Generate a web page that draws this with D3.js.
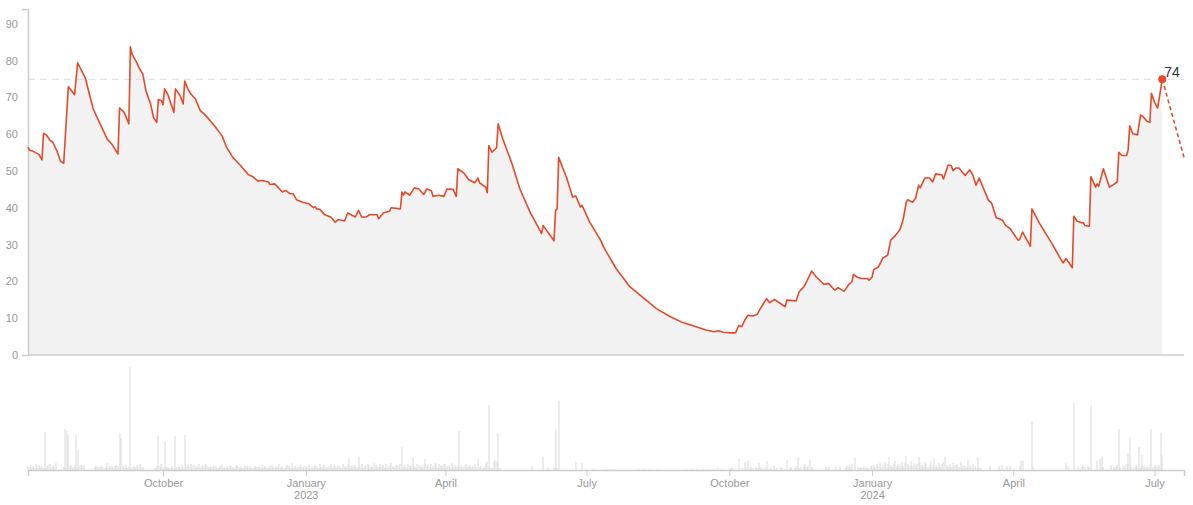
<!DOCTYPE html>
<html><head><meta charset="utf-8">
<script src="https://cdn.jsdelivr.net/npm/d3@7"></script>
<style>
html,body{margin:0;padding:0;background:#fff;}
svg{display:block;font-family:"Helvetica Neue",Helvetica,Arial,"Liberation Sans",sans-serif;}
</style></head><body>
<svg id="chart" width="1193" height="505"></svg>
<script>
// ---------- DATA ----------
const trendPoints = [
["2022-07-06",56.5],["2022-07-07",55.6],["2022-07-09",55.4],["2022-07-13",54.5],["2022-07-15",53.0],
["2022-07-16",60.2],["2022-07-18",59.7],["2022-07-20",58.4],["2022-07-22",57.8],["2022-07-25",55.1],
["2022-07-27",52.6],["2022-07-29",52.1],["2022-08-01",72.9],["2022-08-03",71.8],["2022-08-05",70.7],
["2022-08-07",79.4],["2022-08-09",77.7],["2022-08-12",75.2],["2022-08-14",71.8],["2022-08-17",66.9],
["2022-08-19",65.0],["2022-08-21",63.2],["2022-08-26",58.7],["2022-08-29",57.3],["2022-09-02",54.6],
["2022-09-03",67.1],["2022-09-06",65.9],["2022-09-09",62.8],["2022-09-10",83.7],["2022-09-11",81.8],
["2022-09-14",79.5],["2022-09-16",77.7],["2022-09-18",76.3],["2022-09-20",71.8],["2022-09-23",68.2],
["2022-09-25",64.4],["2022-09-27",63.2],["2022-09-28",69.4],["2022-09-30",69.1],["2022-10-01",68.0],
["2022-10-02",72.3],["2022-10-04",70.9],["2022-10-08",65.9],["2022-10-09",72.3],["2022-10-12",70.5],
["2022-10-14",68.2],["2022-10-15",74.4],["2022-10-17",72.3],["2022-10-19",70.9],["2022-10-22",69.5],
["2022-10-25",66.4],["2022-10-28",65.3],["2022-11-02",62.9],["2022-11-08",59.6],["2022-11-11",56.4],
["2022-11-15",53.7],["2022-11-20",51.5],["2022-11-25",49.0],["2022-11-28",48.4],["2022-12-01",47.3],
["2022-12-04",47.4],["2022-12-08",47.0],["2022-12-09",46.3],["2022-12-12",46.5],["2022-12-17",44.3],
["2022-12-19",44.7],["2022-12-22",43.8],["2022-12-24",43.8],["2022-12-26",42.2],["2022-12-30",41.5],
["2023-01-03",41.1],["2023-01-06",40.0],["2023-01-07",40.3],["2023-01-08",39.7],["2023-01-10",39.6],
["2023-01-13",38.2],["2023-01-17",37.5],["2023-01-20",36.1],["2023-01-22",36.8],["2023-01-26",36.4],
["2023-01-28",38.6],["2023-02-02",37.5],["2023-02-04",39.3],["2023-02-06",37.5],["2023-02-09",37.5],
["2023-02-11",38.1],["2023-02-16",38.1],["2023-02-17",37.0],["2023-02-20",38.6],["2023-02-24",39.1],
["2023-02-25",40.0],["2023-03-03",39.7],["2023-03-04",44.3],["2023-03-05",43.4],["2023-03-06",44.3],
["2023-03-09",43.4],["2023-03-12",45.4],["2023-03-15",45.1],["2023-03-17",44.0],["2023-03-18",43.6],
["2023-03-20",45.1],["2023-03-23",44.6],["2023-03-24",43.1],["2023-03-28",43.4],["2023-03-31",43.1],
["2023-04-02",45.1],["2023-04-06",45.0],["2023-04-08",43.1],["2023-04-09",50.6],["2023-04-13",49.4],
["2023-04-16",47.6],["2023-04-20",46.8],["2023-04-22",48.1],["2023-04-23",46.8],["2023-04-27",45.6],
["2023-04-28",44.1],["2023-04-29",56.9],["2023-05-01",55.1],["2023-05-04",56.3],["2023-05-05",62.8],
["2023-05-08",58.7],["2023-05-14",51.9],["2023-05-19",45.1],["2023-05-26",38.4],["2023-05-27",37.7],
["2023-06-02",33.0],["2023-06-03",35.2],["2023-06-05",34.0],["2023-06-07",32.8],["2023-06-10",31.0],
["2023-06-11",39.3],["2023-06-12",39.7],["2023-06-13",53.7],["2023-06-18",48.3],["2023-06-22",42.9],
["2023-06-24",43.2],["2023-06-27",40.2],["2023-06-28",40.7],["2023-07-03",36.1],["2023-07-10",31.2],
["2023-07-12",29.3],["2023-07-20",23.5],["2023-07-29",18.5],["2023-08-07",15.4],["2023-08-15",12.6],
["2023-08-24",10.4],["2023-09-01",8.8],["2023-09-08",7.9],["2023-09-16",6.8],["2023-09-21",6.3],
["2023-09-24",6.6],["2023-09-27",6.2],["2023-10-02",6.0],["2023-10-05",6.0],["2023-10-07",8.0],
["2023-10-09",7.7],["2023-10-11",9.5],["2023-10-13",10.8],["2023-10-16",10.6],["2023-10-19",11.1],
["2023-10-21",12.6],["2023-10-23",14.0],["2023-10-25",15.3],["2023-10-27",14.2],["2023-10-30",15.1],
["2023-11-06",13.1],["2023-11-07",14.9],["2023-11-13",14.7],["2023-11-15",17.2],["2023-11-18",18.5],
["2023-11-20",20.1],["2023-11-23",22.8],["2023-11-26",21.2],["2023-12-01",19.2],["2023-12-04",19.4],
["2023-12-08",17.6],["2023-12-10",18.3],["2023-12-14",17.3],["2023-12-17",19.2],["2023-12-19",19.9],
["2023-12-20",21.9],["2023-12-22",21.2],["2023-12-25",20.8],["2023-12-29",20.8],["2023-12-30",20.3],
["2024-01-01",21.2],["2024-01-02",23.2],["2024-01-05",23.9],["2024-01-08",26.4],["2024-01-11",27.1],
["2024-01-13",31.2],["2024-01-14",31.6],["2024-01-16",32.5],["2024-01-19",34.1],["2024-01-21",36.8],
["2024-01-23",41.5],["2024-01-24",42.2],["2024-01-27",41.5],["2024-01-29",42.6],["2024-01-31",46.1],
["2024-02-01",45.4],["2024-02-04",48.1],["2024-02-07",48.1],["2024-02-09",47.0],["2024-02-11",49.2],
["2024-02-15",48.9],["2024-02-16",47.8],["2024-02-19",51.6],["2024-02-21",51.5],["2024-02-22",50.1],
["2024-02-24",50.8],["2024-02-26",50.8],["2024-02-28",49.7],["2024-03-01",48.8],["2024-03-04",50.3],
["2024-03-06",48.8],["2024-03-08",46.1],["2024-03-10",48.1],["2024-03-16",42.0],["2024-03-18",41.3],
["2024-03-21",37.3],["2024-03-23",37.0],["2024-03-25",36.6],["2024-03-27",35.2],["2024-03-30",34.3],
["2024-04-04",31.2],["2024-04-05",31.3],["2024-04-07",33.4],["2024-04-12",29.5],["2024-04-13",39.7],
["2024-04-18",35.7],["2024-04-26",30.2],["2024-05-03",25.0],["2024-05-05",26.2],["2024-05-09",23.7],
["2024-05-10",37.7],["2024-05-12",36.4],["2024-05-15",35.9],["2024-05-16",36.0],["2024-05-17",35.2],
["2024-05-20",35.0],["2024-05-21",48.5],["2024-05-24",45.6],["2024-05-25",46.5],["2024-05-26",45.8],
["2024-05-29",50.6],["2024-06-02",45.6],["2024-06-07",47.0],["2024-06-08",55.1],["2024-06-10",54.2],
["2024-06-13",54.2],["2024-06-14",55.7],["2024-06-15",62.3],["2024-06-17",60.1],["2024-06-20",59.8],
["2024-06-22",65.2],["2024-06-24",64.6],["2024-06-26",63.5],["2024-06-28",63.2],["2024-06-29",71.1],
["2024-07-01",68.7],["2024-07-03",67.1],["2024-07-06",74.9]
];
const forecastPoints = [["2024-07-06",74.9],["2024-07-20",53.7]];

// daily activity bars, one row per month starting at the given date
const volumeMonthStarts = [
"2022-07-06","2022-08-01","2022-09-01","2022-10-01","2022-11-01","2022-12-01",
"2023-01-01","2023-02-01","2023-03-01","2023-04-01","2023-05-01","2023-06-01",
"2023-07-01","2023-08-01","2023-09-01","2023-10-01","2023-11-01","2023-12-01",
"2024-01-01","2024-02-01","2024-03-01","2024-04-01","2024-05-01","2024-06-01","2024-07-01"
];
const volumeByMonth = [
[4,3,5,4,3,6,4,5,3,4,2,38,4,5,6,3,5,4,7,0,0,1,0,3,41,39],
[35,4,5,3,5,35,20,4,5,4,5,0,0,0,0,0,0,3,4,3,3,4,3,2,4,7,3,4,4,3,4],
[5,4,37,32,4,3,5,2,4,103,3,4,3,5,4,6,4,3,0,0,0,0,0,0,0,2,4,34,4,6],
[3,29,4,3,2,3,4,2,34,3,4,2,5,3,35,4,5,3,6,4,5,3,4,6,3,5,4,6,5,4,3],
[4,3,5,4,2,3,4,5,3,2,4,3,5,4,3,2,4,5,3,4,2,3,5,4,3,4,2,3,4,3],
[3,4,2,5,3,4,3,2,4,5,3,2,4,3,6,3,4,2,3,5,4,3,7,3,4,2,3,4,5,3,4],
[4,3,5,2,4,3,5,4,2,6,3,4,5,3,2,4,6,3,5,4,3,5,4,2,6,4,3,5,12,4,5],
[4,5,3,13,4,6,3,5,4,6,5,3,4,7,5,4,3,6,4,5,3,6,4,5,7,4,3,5],
[5,4,6,23,4,5,3,6,4,5,13,4,3,6,5,4,3,5,11,4,5,3,6,4,7,5,3,6,4,5,6],
[6,4,5,3,7,4,5,3,4,39,5,3,4,6,3,4,5,3,4,6,3,11,3,4,2,3,7,8,65,3],
[2,8,10,9,37,2,0,0,0,0,0,0,0,0,0,0,0,0,0,0,0,0,0,0,0,0,4,0,0,0,0],
[0,0,13,0,0,3,0,0,0,3,41,2,69,0,0,0,0,0,0,0,0,0,0,8,0,0,0,7,0,0],
[0,0,0,0,1,0,0,0,0,0,0,0,1,0,1,0,1,0,1,0,0,0,0,0,0,0,0,0,0,0,0],
[0,0,0,1,0,0,1,0,0,0,1,0,0,0,0,1,0,0,0,0,0,0,0,0,0,0,0,0,0,0,0],
[0,0,1,0,0,0,1,0,0,1,0,0,0,1,0,0,1,0,0,1,0,1,0,2,0,1,0,0,0,0],
[1,2,2,1,0,0,11,0,2,0,8,2,9,1,3,2,0,3,2,7,3,2,0,3,9,1,0,2,0,4,1],
[2,0,3,2,0,1,10,0,2,3,0,2,4,13,2,3,0,4,6,3,5,10,3,0,0,0,0,0,0,0],
[0,3,2,3,0,0,0,0,3,0,3,0,0,0,3,4,5,3,6,0,12,0,3,2,3,2,4,2,3,2,4],
[4,5,3,6,4,7,3,5,8,4,6,13,5,3,7,9,4,6,5,8,4,7,14,6,5,9,4,7,5,6,13],
[7,5,4,8,6,3,5,9,4,12,5,3,7,4,6,8,13,5,4,6,3,7,4,5,6,3,8,4,5],
[4,3,10,5,3,6,4,2,13,3,2,0,0,0,0,0,4,0,0,0,0,0,4,0,5,0,0,4,0,4,0],
[0,0,0,0,3,9,9,0,0,0,0,0,49,3,0,0,0,0,0,0,0,0,0,0,0,0,0,0,0,0],
[0,0,0,0,7,4,0,0,0,67,0,0,3,0,3,5,3,0,4,3,65,0,0,0,9,0,11,13,3,0,0],
[0,0,5,0,3,4,5,41,3,0,4,5,6,17,33,4,0,3,5,4,23,4,15,5,3,4,3,5,41,3],
[4,5,4,5,37,15]
];

const yTicks = [0,10,20,30,40,50,60,70,80,90];
const xTickDates = ["2022-10-01","2023-01-01","2023-04-01","2023-07-01","2023-10-01","2024-01-01","2024-04-01","2024-07-01"];
const xDomain = ["2022-07-06","2024-07-20"];
const yMax = 94;
const volumeMax = 104;

// ---------- DRAW ----------
const parse = d3.utcParse("%Y-%m-%d");
const LINE = "#e64a2b";
const AXIS = "#cccccc";
const TXT = "#999999";
const L = 28, R = 1184, T = 9, ZERO = 355, VBASE = 470;

const svg = d3.select("#chart");
const x = d3.scaleUtc().domain(xDomain.map(parse)).range([L, R]);
const y = d3.scaleLinear().domain([0, yMax]).range([ZERO, T]);
const yv = d3.scaleLinear().domain([0, volumeMax]).range([VBASE, VBASE - 104]);

const trend = trendPoints.map(d => ({date: parse(d[0]), value: d[1]}));
const forecast = forecastPoints.map(d => ({date: parse(d[0]), value: d[1]}));
const volume = [];
volumeMonthStarts.forEach((s, i) => {
  const start = parse(s);
  volumeByMonth[i].forEach((v, j) => volume.push({date: d3.utcDay.offset(start, j), value: v}));
});
const last = trend[trend.length - 1];

// area
svg.append("path").datum(trend)
  .attr("fill", "#f2f2f2")
  .attr("d", d3.area().x(d => x(d.date)).y0(y(0)).y1(d => y(d.value)));

// reference dashed line at current value
svg.append("line")
  .attr("x1", L).attr("x2", R).attr("y1", y(last.value)).attr("y2", y(last.value))
  .attr("stroke", "#dddddd").attr("stroke-width", 1).attr("stroke-dasharray", "7,5");

// zero line
svg.append("line")
  .attr("x1", L).attr("x2", R).attr("y1", ZERO).attr("y2", ZERO)
  .attr("stroke", AXIS).attr("stroke-width", 1.5);

// y axis
const gy = svg.append("g").attr("transform", `translate(${L},0)`)
  .call(d3.axisLeft(y).tickValues(yTicks).tickSizeInner(0).tickSizeOuter(6).tickPadding(10));
gy.select(".domain").attr("stroke", AXIS).attr("stroke-width", 1.5);
gy.selectAll(".tick line").remove();
gy.selectAll("text").attr("fill", TXT).style("font-size", "11px");

// volume bars
svg.append("g").selectAll("rect").data(volume.filter(d => d.value > 0)).join("rect")
  .attr("x", d => Math.round(x(d.date)) - 0.5)
  .attr("width", 1)
  .attr("y", d => yv(d.value))
  .attr("height", d => VBASE - yv(d.value))
  .attr("fill", "#d9d9d9");

// bottom axis
const gx = svg.append("g").attr("transform", `translate(0,${VBASE})`)
  .call(d3.axisBottom(x).tickValues(xTickDates.map(parse)).tickSizeInner(6).tickSizeOuter(6)
    .tickFormat(d3.utcFormat("%B")));
gx.select(".domain").attr("stroke", AXIS).attr("stroke-width", 1.5);
gx.selectAll(".tick line").attr("stroke", AXIS).attr("stroke-width", 1);
gx.selectAll("text").attr("fill", TXT).style("font-size", "11px")
  .each(function(d) {
    if (d.getUTCMonth() === 0) {
      d3.select(this).append("tspan").attr("x", 0).attr("dy", "1.15em").text(d.getUTCFullYear());
    }
  });

// line
svg.append("path").datum(trend)
  .attr("fill", "none").attr("stroke", LINE).attr("stroke-width", 1.6)
  .attr("stroke-linejoin", "round")
  .attr("d", d3.line().x(d => x(d.date)).y(d => y(d.value)));

// forecast
svg.append("path").datum(forecast)
  .attr("fill", "none").attr("stroke", LINE).attr("stroke-width", 1.6)
  .attr("stroke-dasharray", "4,3")
  .attr("d", d3.line().x(d => x(d.date)).y(d => y(d.value)));

// endpoint
svg.append("circle").attr("cx", x(last.date)).attr("cy", y(last.value)).attr("r", 4).attr("fill", LINE);
svg.append("text").attr("x", x(last.date) + 2).attr("y", y(last.value) - 2)
  .attr("fill", "#333").style("font-size", "14px")
  .text(Math.floor(last.value));
</script>
</body></html>
